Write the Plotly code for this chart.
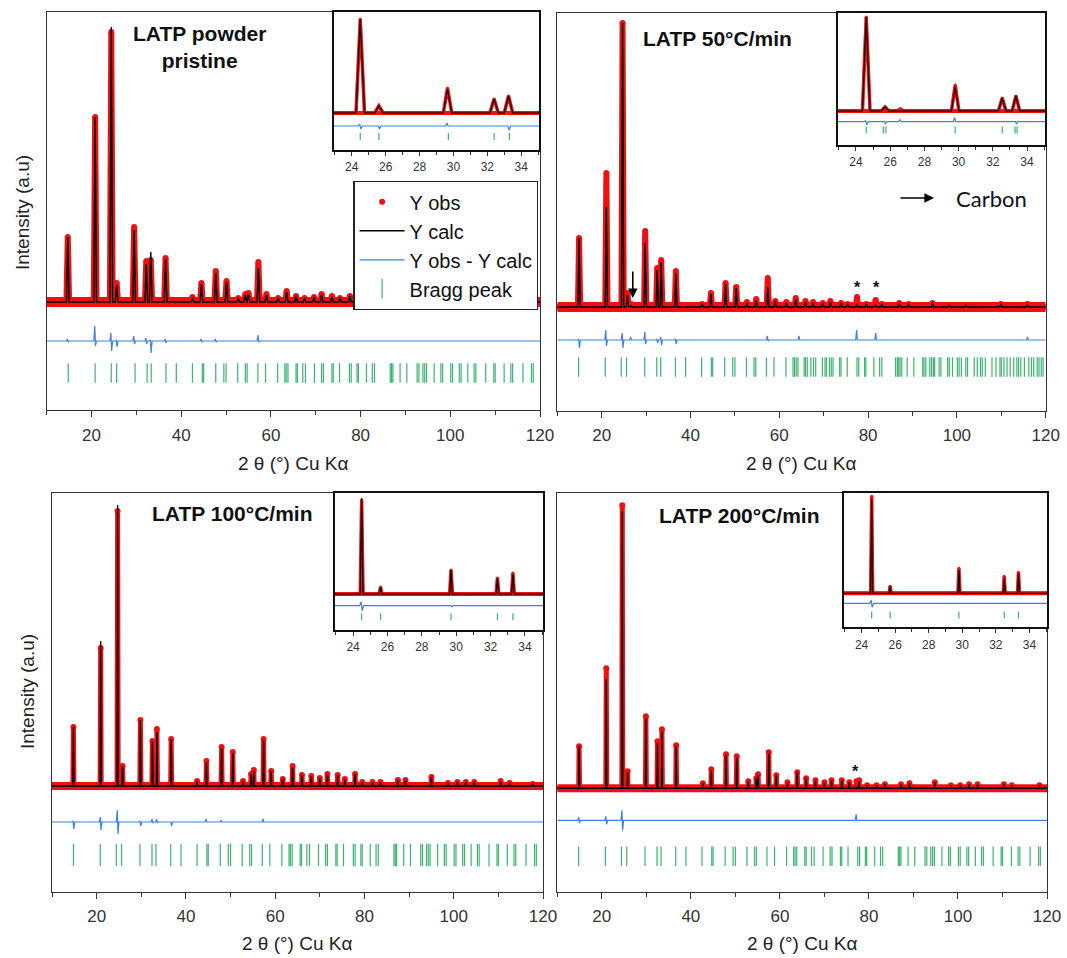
import plotly.graph_objects as go

W, H = 1067, 958

# ---------------- DATA (intensity in arbitrary units, baseline = 0) ----------------
# Panel 1 : LATP powder pristine
p1_pos  = [14.7, 20.8, 24.4, 25.6, 29.5, 32.2, 33.2, 36.5, 42.5, 44.5, 47.7, 50.1, 52.7, 54.3, 55.0,
           57.2, 59.0, 61.6, 63.5, 65.6, 67.5, 69.6, 71.3, 73.6, 75.4, 77.6, 80.9, 83.2, 86.9, 89.0,
           94.6, 98.2, 100.1, 102.0, 103.9, 110.0, 118.0]
p1_obs  = [65, 185, 270, 19, 75, 41, 42, 44, 5, 19, 31, 21, 4, 8, 9,
           40, 8, 4, 11, 6, 4, 5, 8, 6, 4, 6, 3, 3, 4, 4,
           5, 2, 2, 2, 2, 3, 3]
p1_calc = [65, 185, 275, 17, 72, 38, 50, 43, 4, 18, 29, 20, 4, 7, 8,
           34, 7, 4, 10, 6, 4, 5, 7, 5, 4, 6, 3, 3, 4, 4,
           5, 2, 2, 2, 2, 3, 3]
p1_hw = 0.3
p1_dpos  = [14.7, 20.8, 24.4, 25.6, 29.5, 32.2, 33.2, 36.5, 44.5, 47.7, 57.2]
p1_dup   = [2, 15, 8, 1, 5, 3, 1, 2, 2, 2, 6]
p1_ddown = [1, 5, 10, 6, 3, 3, 12, 2, 1, 1, 1]

# Panel 2 : LATP 50 C/min
p2_pos  = [14.9, 21.05, 24.7, 25.8, 26.6, 29.8, 32.5, 33.4, 36.7, 42.6, 44.6, 47.9, 50.3, 52.7, 54.8,
           57.4, 59.1, 61.6, 63.7, 65.9, 67.6, 69.8, 71.5, 73.9, 75.4, 77.5, 79.6, 81.7, 83.1, 87.0,
           89.1, 94.5, 98.3, 102.0, 109.9, 115.9]
p2_obs  = [69, 134, 284, 14, 3, 76, 39, 47, 36, 3, 14, 24, 20, 5, 8,
           29, 6, 5, 9, 6, 5, 4, 6, 4, 3, 10, 3, 7, 3, 4,
           3, 4, 2, 2, 3, 3]
p2_calc = [69, 100, 284, 12, 1, 64, 37, 45, 34, 3, 13, 23, 19, 4, 7,
           20, 6, 4, 8, 5, 4, 4, 5, 4, 3, 3, 3, 2, 3, 4,
           3, 4, 2, 2, 3, 2]
p2_hw = 0.25
p2_dpos  = [14.9, 21.0, 24.7, 26.6, 29.8, 32.5, 33.4, 36.7, 57.4, 64.5, 77.5, 81.8, 116.0]
p2_dup   = [1, 10, 7, 3, 8, 1, 3, 1, 4, 4, 10, 7, 3]
p2_ddown = [8, 6, 8, 0, 4, 3, 5, 4, 1, 0, 0, 0, 0]

# Panel 3 : LATP 100 C/min
p3_pos  = [14.8, 20.9, 24.7, 25.8, 29.8, 32.5, 33.5, 36.7, 42.5, 44.6, 48.0, 50.5, 52.8, 54.6, 55.2,
           57.4, 59.1, 61.7, 63.9, 66.0, 68.1, 70.0, 71.7, 74.0, 75.6, 77.9, 79.5, 81.8, 83.6, 87.5,
           89.2, 95.0, 98.7, 100.8, 102.7, 104.6, 110.5, 112.5, 117.7]
p3_obs  = [59, 138, 275, 20, 66, 45, 57, 47, 5, 25, 39, 34, 5, 12, 16,
           47, 15, 7, 20, 11, 10, 8, 12, 11, 7, 12, 4, 4, 4, 6,
           6, 9, 3, 4, 4, 4, 5, 3, 2]
p3_calc = [59, 145, 281, 20, 66, 45, 54, 47, 5, 24, 38, 33, 5, 12, 15,
           46, 15, 7, 19, 11, 10, 8, 12, 11, 7, 12, 4, 4, 4, 6,
           6, 9, 3, 4, 4, 4, 5, 3, 2]
p3_hw = 0.12
p3_dpos  = [14.8, 20.9, 24.7, 29.8, 32.5, 33.5, 36.7, 44.6, 48.0, 57.4]
p3_dup   = [1, 5, 12, 1, 3, 3, 0, 3, 2, 3]
p3_ddown = [7, 8, 12, 4, 1, 1, 4, 0, 0, 0]

# Panel 4 : LATP 200 C/min
p4_pos  = [14.9, 21.0, 24.6, 25.8, 29.9, 32.5, 33.5, 36.7, 42.7, 44.6, 47.9, 50.3, 52.9, 54.7, 55.1,
           57.5, 59.2, 61.7, 63.9, 65.9, 68.0, 70.0, 71.6, 73.9, 75.6, 77.2, 77.8, 79.6, 81.7, 83.6,
           87.2, 89.1, 94.8, 98.4, 100.5, 102.5, 104.4, 110.3, 112.1, 118.3]
p4_obs  = [42, 120, 283, 17, 72, 47, 59, 43, 5, 19, 34, 32, 7, 10, 14,
           36, 13, 6, 16, 10, 8, 6, 8, 8, 6, 7, 8, 3, 3, 4,
           4, 5, 6, 3, 3, 4, 4, 4, 3, 3]
p4_calc = [42, 109, 277, 16, 70, 45, 57, 42, 5, 18, 33, 31, 7, 10, 13,
           35, 13, 6, 16, 10, 8, 6, 8, 8, 6, 2, 7, 3, 3, 4,
           4, 5, 6, 3, 3, 4, 4, 4, 3, 3]
p4_hw = 0.1
p4_dpos  = [14.9, 21.0, 24.6, 77.2]
p4_dup   = [3, 4, 10, 6]
p4_ddown = [3, 4, 10, 0]

# Bragg reflections (2 theta)
bragg_pos = [14.8, 20.8, 24.4, 25.6, 29.7, 32.4, 33.3, 36.6, 38.9, 42.5, 44.7, 45.0, 47.7, 49.5, 50.0,
             52.6, 54.3, 54.7, 57.1, 58.8, 61.5, 63.1, 63.4, 63.8, 65.6, 65.9, 67.1, 67.7, 69.7, 71.3,
             71.7, 73.6, 73.9, 75.3, 77.5, 77.9, 79.2, 79.5, 81.3, 82.6, 83.1, 86.6, 86.9, 87.2, 88.8,
             90.3, 92.6, 93.0, 93.9, 94.3, 94.7, 96.4, 97.9, 98.3, 100.1, 100.5, 102.0, 102.4, 103.9,
             105.3, 105.7, 107.9, 109.7, 110.0, 112.0, 113.5, 113.9, 116.2, 118.1, 118.5]
bragg_extra_p2 = [64.2, 66.3, 68.2, 70.3, 70.6, 72.1, 86.2, 87.6, 92.3, 95.0, 96.0, 99.0, 101.0,
                  104.6, 106.4, 108.8, 110.6, 111.3, 112.8, 114.4, 115.2, 116.8, 117.3, 119.0, 119.4]

# Insets (23-35 degrees)
i1_pos, i1_obs, i1_calc, i1_hw = [24.5, 25.6, 29.65, 32.4, 33.25], [94, 7, 25, 14, 17], [94, 7, 24, 14, 17], 0.25
i1_dpos, i1_dup, i1_ddown = [24.5, 25.6, 29.65, 33.25], [2, 0, 3, 0], [3, 3, 0, 4]
i1_bragg = [24.5, 25.6, 29.7, 32.4, 33.3]

i2_pos, i2_obs, i2_calc, i2_hw = [24.6, 25.7, 26.6, 29.8, 32.55, 33.35], [94, 4, 2, 26, 13, 15], [94, 4, 0.5, 24, 13, 15], 0.22
i2_dpos, i2_dup, i2_ddown = [24.6, 25.7, 26.6, 29.8, 33.35], [1, 0, 2, 4, 0], [3, 2, 0, 0, 2]
i2_bragg = [24.6, 25.6, 25.75, 29.8, 32.55, 33.3, 33.42]

i3_pos, i3_obs, i3_calc, i3_hw = [24.5, 25.6, 29.7, 32.4, 33.3], [94, 7, 24, 16, 21], [96, 7, 24, 16, 20], 0.08
i3_dpos, i3_dup, i3_ddown = [24.5, 29.7], [4, 0], [5, 1]
i3_bragg = [24.5, 25.6, 29.7, 32.4, 33.3]

i4_pos, i4_obs, i4_calc, i4_hw = [24.6, 25.7, 29.8, 32.5, 33.35], [97, 7, 25, 17, 21], [94, 7, 23, 15, 20], 0.06
i4_dpos, i4_dup, i4_ddown = [24.6], [3], [4]
i4_bragg = [24.6, 25.7, 29.8, 32.5, 33.35]

# ---------------- HELPERS ----------------
def dom_x(a, b):
    return [a / W, b / W]

def dom_y(top, bottom):
    return [1 - bottom / H, 1 - top / H]

def profile(pos, h, hw, x0, x1):
    xs, ys = [x0], [0]
    for p, v in zip(pos, h):
        xs += [p - hw, p, p + hw]
        ys += [0, v, 0]
    xs.append(x1); ys.append(0)
    return xs, ys

def diff_profile(pos, up, down, off, w, x0, x1):
    xs, ys = [x0], [off]
    for p, u, d in zip(pos, up, down):
        xs += [p - w, p - w / 4, p + w / 4, p + w]
        ys += [off, off + u, off - d, off]
    xs.append(x1); ys.append(off)
    return xs, ys

RED, BLUE, GREEN = "#f01010", "#3d80e6", "#3cb371"
FONT = "Liberation Sans"

fig = go.Figure()

panels = [
    dict(n=1, pos=p1_pos, obs=p1_obs, calc=p1_calc, hw=p1_hw, dpos=p1_dpos, dup=p1_dup, ddown=p1_ddown,
         bragg=bragg_pos, dx=(46.7, 540), dy=(12, 410), yr=(-108, 290), doff=-39, boff=-71, blen=14,
         band=6, base=10, xr=(10, 120), inset=False),
    dict(n=2, pos=p2_pos, obs=p2_obs, calc=p2_calc, hw=p2_hw, dpos=p2_dpos, dup=p2_dup, ddown=p2_ddown,
         bragg=sorted(bragg_pos + bragg_extra_p2), dx=(557.3, 1045.7), dy=(12.7, 410.7), yr=(-103.7, 294.3),
         doff=-33, boff=-60, blen=14, band=6, base=10, xr=(10, 120), inset=False),
    dict(n=3, pos=p3_pos, obs=p3_obs, calc=p3_calc, hw=p3_hw, dpos=p3_dpos, dup=p3_dup, ddown=p3_ddown,
         bragg=bragg_pos, dx=(52, 543), dy=(493.3, 891.7), yr=(-105.7, 292.7), doff=-36, boff=-69, blen=16,
         band=5, base=8, xr=(10, 120), inset=False),
    dict(n=4, pos=p4_pos, obs=p4_obs, calc=p4_calc, hw=p4_hw, dpos=p4_dpos, dup=p4_dup, ddown=p4_ddown,
         bragg=bragg_pos, dx=(557.3, 1047), dy=(493.3, 891.7), yr=(-103.4, 295), doff=-32, boff=-68, blen=14,
         band=5, base=8, xr=(10, 120), inset=False),
    dict(n=5, pos=i1_pos, obs=i1_obs, calc=i1_calc, hw=i1_hw, dpos=i1_dpos, dup=i1_dup, ddown=i1_ddown,
         bragg=i1_bragg, dx=(334, 539), dy=(12.3, 150), yr=(-37, 100.7), doff=-13, boff=-23.5, blen=5,
         band=3.5, base=4, xr=(22.95, 35.05), inset=True),
    dict(n=6, pos=i2_pos, obs=i2_obs, calc=i2_calc, hw=i2_hw, dpos=i2_dpos, dup=i2_dup, ddown=i2_ddown,
         bragg=i2_bragg, dx=(838, 1045), dy=(12.7, 145), yr=(-34, 98.3), doff=-10.7, boff=-19, blen=5,
         band=3.5, base=4, xr=(22.95, 35.05), inset=True),
    dict(n=7, pos=i3_pos, obs=i3_obs, calc=i3_calc, hw=i3_hw, dpos=i3_dpos, dup=i3_dup, ddown=i3_ddown,
         bragg=i3_bragg, dx=(335, 543), dy=(492.7, 630), yr=(-36, 101.3), doff=-11.7, boff=-22.7, blen=5,
         band=3.5, base=4, xr=(22.95, 35.05), inset=True),
    dict(n=8, pos=i4_pos, obs=i4_obs, calc=i4_calc, hw=i4_hw, dpos=i4_dpos, dup=i4_dup, ddown=i4_ddown,
         bragg=i4_bragg, dx=(844, 1047), dy=(493.3, 627.3), yr=(-34, 100), doff=-10, boff=-21.7, blen=5,
         band=3.5, base=4, xr=(22.95, 35.05), inset=True),
]

layout_axes = {}
for P in panels:
    n = P["n"]
    xa = "x" if n == 1 else f"x{n}"
    ya = "y" if n == 1 else f"y{n}"
    leg = (n == 1)
    x0, x1 = P["xr"]
    ox, oy = profile(P["pos"], P["obs"], P["hw"], x0, x1)
    cx, cy = profile(P["pos"], P["calc"], P["hw"], x0, x1)
    dw = 0.3 if not P["inset"] else 0.12
    dxs, dys = diff_profile(P["dpos"], P["dup"], P["ddown"], P["doff"], dw, x0, x1)
    msize = 6 if not P["inset"] else 3
    # observed background band (scatter of the observed points around the baseline)
    fig.add_trace(go.Scatter(x=[x0, x1], y=[0, 0], mode="lines", line=dict(color=RED, width=P["base"]),
                             showlegend=False, hoverinfo="skip", xaxis=xa, yaxis=ya))
    fig.add_trace(go.Scatter(x=ox, y=oy, mode="lines", line=dict(color=RED, width=P["band"]),
                             showlegend=False, hoverinfo="skip", xaxis=xa, yaxis=ya))
    fig.add_trace(go.Scatter(x=ox, y=oy, mode="markers", name="Y obs",
                             marker=dict(color=RED, size=msize), showlegend=leg, xaxis=xa, yaxis=ya))
    fig.add_trace(go.Scatter(x=cx, y=cy, mode="lines", name="Y calc",
                             line=dict(color="black", width=1.4 if not P["inset"] else 1.2),
                             showlegend=leg, xaxis=xa, yaxis=ya))
    fig.add_trace(go.Scatter(x=dxs, y=dys, mode="lines", name="Y obs - Y calc",
                             line=dict(color=BLUE, width=1.2), showlegend=leg, xaxis=xa, yaxis=ya))
    fig.add_trace(go.Scatter(x=P["bragg"], y=[P["boff"]] * len(P["bragg"]), mode="markers", name="Bragg peak",
                             marker=dict(symbol="line-ns", size=P["blen"], color=GREEN,
                                         line=dict(color=GREEN, width=1.2)),
                             showlegend=leg, xaxis=xa, yaxis=ya))

    if not P["inset"]:
        xax = dict(domain=dom_x(*P["dx"]), range=list(P["xr"]), anchor=ya, dtick=20, tick0=0,
                   ticks="outside", ticklen=6, tickwidth=1.2, tickcolor="#333",
                   minor=dict(dtick=10, ticklen=4, ticks="outside", tickwidth=1.2, tickcolor="#333"),
                   showline=True, mirror=True, linecolor="#333", linewidth=1.3,
                   showgrid=False, zeroline=False, tickfont=dict(size=17, color="#333", family=FONT),
                   ticklabelstandoff=3)
        yax = dict(domain=dom_y(*P["dy"]), range=list(P["yr"]), anchor=xa, showticklabels=False,
                   ticks="", showline=True, mirror=True, linecolor="#333", linewidth=1.3,
                   showgrid=False, zeroline=False)
    else:
        xax = dict(domain=dom_x(*P["dx"]), range=list(P["xr"]), anchor=ya, dtick=2, tick0=0,
                   ticks="outside", ticklen=4, tickwidth=1, tickcolor="#333",
                   minor=dict(dtick=1, ticklen=3, ticks="outside", tickwidth=1, tickcolor="#333"),
                   showline=True, mirror=True, linecolor="#111", linewidth=1.6,
                   showgrid=False, zeroline=False, tickfont=dict(size=12, color="#333", family=FONT),
                   ticklabelstandoff=1)
        yax = dict(domain=dom_y(*P["dy"]), range=list(P["yr"]), anchor=xa, showticklabels=False,
                   ticks="", showline=True, mirror=True, linecolor="#111", linewidth=1.6,
                   showgrid=False, zeroline=False)
    layout_axes["xaxis" if n == 1 else f"xaxis{n}"] = xax
    layout_axes["yaxis" if n == 1 else f"yaxis{n}"] = yax


def pxx(x):
    return x / W


def pxy(y):
    return 1 - y / H


ann = []
def text(x, y, s, size=19, family=FONT, angle=0, color="#222"):
    ann.append(dict(x=pxx(x), y=pxy(y), xref="paper", yref="paper", text=s, showarrow=False,
                    font=dict(size=size, family=family, color=color), textangle=angle,
                    xanchor="center", yanchor="middle"))

# panel titles
text(199, 47, "<b>LATP powder</b><br><b>pristine</b>", size=21, color="#111")
text(717, 38, "<b>LATP 50°C/min</b>", size=21, color="#111")
text(232, 513, "<b>LATP 100°C/min</b>", size=21, color="#111")
text(739, 515, "<b>LATP 200°C/min</b>", size=21, color="#111")
# axis titles
for cx, cy in [(293, 463), (801, 463), (297, 943), (802, 943)]:
    text(cx, cy, "2 θ (°) Cu Kα", size=19, color="#222")
text(22, 213, "Intensity (a.u)", size=19, angle=-90, color="#222")
text(27, 692, "Intensity (a.u)", size=19, angle=-90, color="#222")
# Carbon label
text(991, 198, "Carbon", size=22, family="Lato", color="#111")
ann.append(dict(x=pxx(934), y=pxy(198), xref="paper", yref="paper", ax=-35, ay=0, text="",
                showarrow=True, arrowhead=2, arrowsize=1.2, arrowwidth=1.6, arrowcolor="black"))
# down arrow (carbon peak) in panel 2
ann.append(dict(x=27.0, y=9, xref="x2", yref="y2", ax=0, ay=-28, text="", showarrow=True,
                arrowhead=2, arrowsize=1.2, arrowwidth=1.6, arrowcolor="black"))
# asterisks
for xx, yy, xr, yr in [(77.5, 20, "x2", "y2"), (81.8, 20, "x2", "y2"), (76.9, 17, "x4", "y4")]:
    ann.append(dict(x=xx, y=yy, xref=xr, yref=yr, text="<b>*</b>", showarrow=False,
                    font=dict(size=16, family=FONT, color="#111"), yanchor="middle"))

fig.update_layout(
    height=H, autosize=True,
    margin=dict(l=0, r=0, t=0, b=0, autoexpand=False),
    paper_bgcolor="white", plot_bgcolor="white",
    font=dict(family=FONT),
    annotations=ann,
    legend=dict(x=353.3 / W, y=1 - 181 / H, xanchor="left", yanchor="top",
                bgcolor="white", bordercolor="#222", borderwidth=1.3,
                font=dict(size=20, family=FONT, color="#111"), itemwidth=45, tracegroupgap=0),
    **layout_axes,
)

post = ("document.documentElement.style.overflow='hidden';"
        "document.documentElement.style.margin='0';"
        "document.body.style.margin='0';document.body.style.overflow='hidden';"
        "var gd=document.getElementById('{plot_id}');"
        "gd.style.width='100%';"
        "Plotly.relayout(gd,{width:document.documentElement.clientWidth,height:" + str(H) + "});")
fig.write_html("out.html", config={"displayModeBar": False, "responsive": True},
               default_width="100%", default_height=str(H) + "px", post_script=post)
